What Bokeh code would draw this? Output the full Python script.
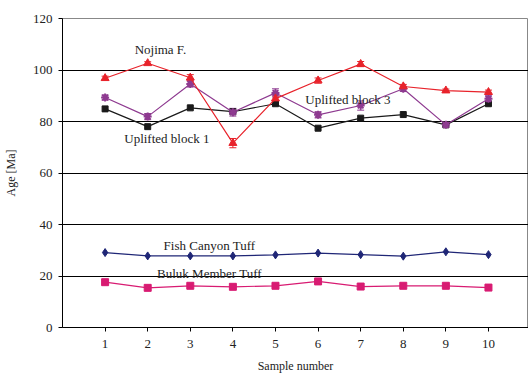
from bokeh.plotting import figure
from bokeh.models import Range1d, FixedTicker, Whisker, ColumnDataSource, Label
from bokeh.embed import file_html
from bokeh.resources import INLINE

samples = [1, 2, 3, 4, 5, 6, 7, 8, 9, 10]
nojima = [96.8, 102.6, 97.0, 71.6, 88.9, 95.9, 102.3, 93.6, 92.0, 91.4]
nojima_err = [0.8, 0.6, 1.2, 1.8, 1.0, 1.0, 1.0, 0.8, 0.6, 0.8]
block3 = [89.3, 81.9, 94.6, 83.6, 91.1, 82.6, 86.2, 92.7, 78.7, 88.8]
block3_err = [1.0, 1.2, 1.2, 1.5, 1.6, 1.2, 1.8, 1.0, 0.8, 1.2]
block1 = [84.9, 78.0, 85.3, 83.8, 86.9, 77.4, 81.3, 82.7, 78.7, 86.9]
fish = [29.1, 27.8, 27.8, 27.8, 28.2, 28.9, 28.3, 27.7, 29.4, 28.3]
buluk = [17.6, 15.4, 16.2, 15.8, 16.2, 17.9, 15.9, 16.2, 16.2, 15.5]

FONT = "Liberation Serif"

p = figure(width=528, height=375, output_backend="svg", toolbar_location=None,
           x_range=Range1d(0, 10.94), y_range=Range1d(0, 120),
           min_border_left=59, min_border_right=0, min_border_top=18, min_border_bottom=48)
p.outline_line_color = "#888888"
p.outline_line_width = 1
p.background_fill_color = "white"
p.border_fill_color = "white"

p.xgrid.visible = False
p.ygrid.ticker = FixedTicker(ticks=[20, 40, 60, 80, 100])
p.ygrid.grid_line_color = "black"
p.ygrid.grid_line_width = 1

p.yaxis.ticker = FixedTicker(ticks=[0, 20, 40, 60, 80, 100, 120])
p.xaxis.ticker = FixedTicker(ticks=samples)
for ax in (p.xaxis[0], p.yaxis[0]):
    ax.axis_line_color = "black"
    ax.major_tick_line_color = "black"
    ax.major_tick_out = 4
    ax.major_tick_in = 0
    ax.minor_tick_line_color = None
    ax.major_label_text_font = FONT
    ax.major_label_text_font_size = "13px"
    ax.major_label_text_color = "#222222"
    ax.axis_label_text_font = FONT
    ax.axis_label_text_font_size = "12px"
    ax.axis_label_text_font_style = "normal"
    ax.axis_label_text_color = "#222222"
p.xaxis.axis_label = "Sample number"
p.yaxis.axis_label = "Age [Ma]"
p.xaxis.major_label_standoff = 8
p.yaxis.major_label_standoff = 6
p.xaxis.axis_label_standoff = 8
p.yaxis.axis_label_standoff = 12

RED = "#e8232b"
PURPLE = "#8e3a90"
BLACK = "#1a1a1a"
NAVY = "#1f2676"
MAGENTA = "#d81b72"

def add_err(y, err, color):
    src = ColumnDataSource(dict(x=samples, lo=[a - b for a, b in zip(y, err)],
                                hi=[a + b for a, b in zip(y, err)]))
    w = Whisker(source=src, base="x", lower="lo", upper="hi", line_color=color,
                line_width=1)
    w.upper_head.line_color = color
    w.lower_head.line_color = color
    w.upper_head.size = 7
    w.lower_head.size = 7
    p.add_layout(w)

add_err(nojima, nojima_err, RED)
add_err(block3, block3_err, PURPLE)

p.line(samples, block1, line_color=BLACK, line_width=1.2)
p.scatter(samples, block1, marker="square", size=6, fill_color=BLACK, line_color=BLACK)

p.line(samples, block3, line_color=PURPLE, line_width=1.2)
p.scatter(samples, block3, marker="asterisk", size=8, line_color=PURPLE, line_width=2)

p.line(samples, nojima, line_color=RED, line_width=1.2)
p.scatter(samples, nojima, marker="triangle", size=8, fill_color=RED, line_color=RED)

p.line(samples, fish, line_color=NAVY, line_width=1.2)
p.scatter(samples, fish, marker="diamond", size=8, fill_color=NAVY, line_color=NAVY)

p.line(samples, buluk, line_color=MAGENTA, line_width=1.2)
p.scatter(samples, buluk, marker="square", size=7, fill_color=MAGENTA, line_color=MAGENTA)

labels = [("Nojima F.", 2.3, 108.0), ("Uplifted block 1", 2.45, 73.5),
          ("Uplifted block 3", 6.7, 88.5), ("Fish Canyon Tuff", 3.45, 32.0),
          ("Buluk Member Tuff", 3.45, 21.0)]
for txt, lx, ly in labels:
    p.add_layout(Label(x=lx, y=ly, text=txt, text_font=FONT, text_font_size="13px",
                       text_color="#222222", text_align="center", text_baseline="middle"))

open("out.html", "w").write(file_html(p, INLINE))
